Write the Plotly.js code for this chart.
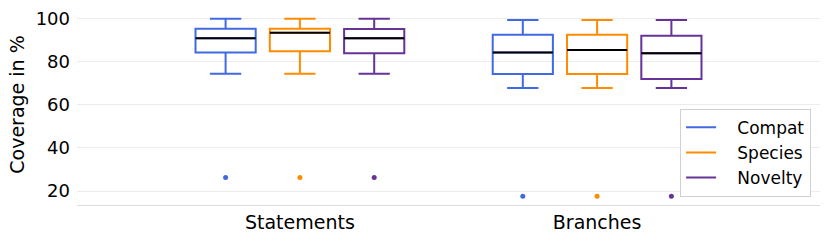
<!DOCTYPE html>
<html>
<head>
<meta charset="utf-8">
<script src="https://cdn.plot.ly/plotly-3.0.1.min.js"></script>
<style>
  html, body { margin: 0; padding: 0; background: #fff; }
  #chart { width: 830px; height: 242px; }
</style>
</head>
<body>
<div id="chart"></div>
<script>
// ---- Data ----
const categories = ["Statements", "Branches"];
const seriesNames = ["Compat", "Species", "Novelty"];

const compatLower   = [74.3, 67.7];
const compatQ1      = [84.2, 74.2];
const compatMedian  = [90.7, 84.2];
const compatQ3      = [95.1, 92.4];
const compatUpper   = [99.75, 99.2];
const compatOutliers = [[26.2], [17.6]];

const speciesLower   = [74.3, 67.7];
const speciesQ1      = [84.7, 74.2];
const speciesMedian  = [93.3, 85.3];
const speciesQ3      = [95.2, 92.4];
const speciesUpper   = [99.75, 99.2];
const speciesOutliers = [[26.2], [17.6]];

const noveltyLower   = [74.3, 67.7];
const noveltyQ1      = [83.8, 71.9];
const noveltyMedian  = [90.7, 83.8];
const noveltyQ3      = [95.0, 91.9];
const noveltyUpper   = [99.75, 99.2];
const noveltyOutliers = [[26.2], [17.6]];

const colors = ["#4169E1", "#FF8C00", "#663399"];

// ---- Build traces ----
const series = [
  {lower: compatLower, q1: compatQ1, median: compatMedian, q3: compatQ3, upper: compatUpper, out: compatOutliers},
  {lower: speciesLower, q1: speciesQ1, median: speciesMedian, q3: speciesQ3, upper: speciesUpper, out: speciesOutliers},
  {lower: noveltyLower, q1: noveltyQ1, median: noveltyMedian, q3: noveltyQ3, upper: noveltyUpper, out: noveltyOutliers}
];

const traces = [];
series.forEach((s, k) => {
  traces.push({
    type: "box",
    name: seriesNames[k],
    x: categories,
    y: s.out,
    q1: s.q1, median: s.median, q3: s.q3,
    lowerfence: s.lower, upperfence: s.upper,
    boxpoints: "outliers",
    pointpos: 0, jitter: 0,
    marker: {color: colors[k], size: 5, outliercolor: colors[k]},
    line: {color: colors[k], width: 2},
    fillcolor: "rgba(255,255,255,0)",
    whiskerwidth: 0.52,
    offsetgroup: "g" + k,
    showlegend: false,
    hoverinfo: "skip"
  });
});
// black median overlays
series.forEach((s, k) => {
  traces.push({
    type: "box",
    name: seriesNames[k] + " median",
    x: categories,
    q1: s.median, median: s.median, q3: s.median,
    lowerfence: s.median, upperfence: s.median,
    boxpoints: false,
    line: {color: "#000000", width: 2},
    fillcolor: "rgba(0,0,0,0)",
    whiskerwidth: 0,
    offsetgroup: "g" + k,
    showlegend: false,
    hoverinfo: "skip"
  });
});
// legend entries as lines
const pad = "\u00A0\u00A0\u00A0";
series.forEach((s, k) => {
  traces.push({
    type: "scatter",
    mode: "lines",
    name: pad + seriesNames[k],
    x: [categories[0]],
    y: [null],
    line: {color: colors[k], width: 2},
    showlegend: true,
    hoverinfo: "skip"
  });
});

const layout = {
  width: 830, height: 242,
  margin: {l: 77, r: 10, t: 4, b: 37},
  paper_bgcolor: "#ffffff",
  plot_bgcolor: "#ffffff",
  font: {family: "DejaVu Sans", color: "#000000", size: 18},
  boxmode: "group",
  boxgap: 0.25,
  boxgroupgap: 0.19,
  showlegend: true,
  legend: {
    x: 0.988, xanchor: "right",
    y: 0.041, yanchor: "bottom",
    bgcolor: "#ffffff",
    bordercolor: "#d0d0d0",
    borderwidth: 1,
    font: {size: 17, family: "DejaVu Sans"}
  },
  xaxis: {
    type: "category",
    categoryorder: "array",
    categoryarray: categories,
    range: [-0.75, 1.75],
    showgrid: false,
    zeroline: false,
    showline: true,
    linecolor: "#dddddd",
    linewidth: 1,
    ticks: "",
    tickfont: {size: 19},
    ticklabelstandoff: 0
  },
  yaxis: {
    range: [13.52, 106.62],
    tickvals: [20, 40, 60, 80, 100],
    ticktext: ["20", "40", "60", "80", "100"],
    showgrid: true,
    gridcolor: "#ececec",
    gridwidth: 1,
    zeroline: false,
    showline: false,
    ticks: "",
    tickfont: {size: 18},
    ticklabelstandoff: 6,
    title: {text: "Coverage in %", font: {size: 19}, standoff: 5}
  }
};

Plotly.newPlot("chart", traces, layout, {staticPlot: true, displayModeBar: false});
</script>
</body>
</html>
